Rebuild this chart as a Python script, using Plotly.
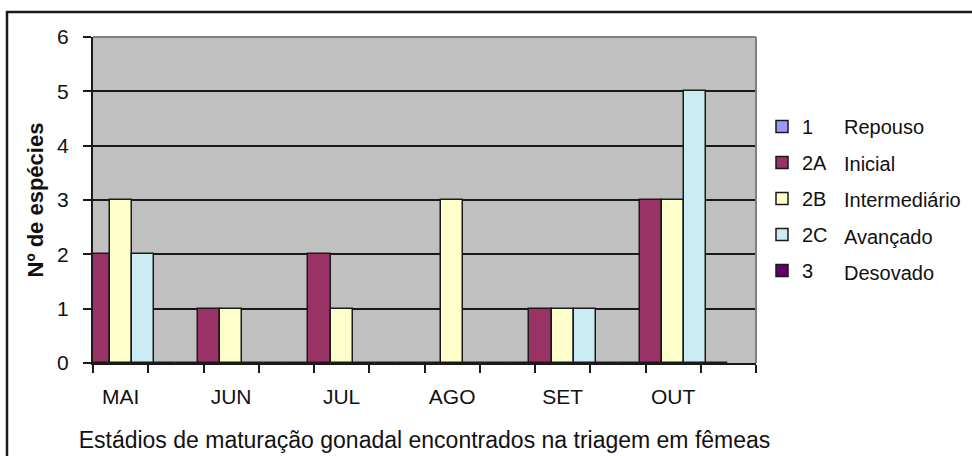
import plotly.graph_objects as go

# ---- data ----
months = ["MAI", "JUN", "JUL", "AGO", "SET", "OUT"]
codes = ["1", "2A", "2B", "2C", "3"]
stages = ["Repouso", "Inicial", "Intermediário", "Avançado", "Desovado"]
s1_repouso = [0, 0, 0, 0, 0, 0]
s2a_inicial = [2, 1, 2, 0, 1, 3]
s2b_intermediario = [3, 1, 1, 3, 1, 3]
s2c_avancado = [2, 0, 0, 0, 1, 5]
s3_desovado = [0, 0, 0, 0, 0, 0]
series = [s1_repouso, s2a_inicial, s2b_intermediario, s2c_avancado, s3_desovado]
colors = ["#9999FF", "#993366", "#FFFFCC", "#CCECF4", "#660066"]

# every month is followed by an empty (unlabelled) category slot
xpos = [2 * i for i in range(len(months))]
n_slots = 2 * len(months)

FONT = "Liberation Sans, Arial, sans-serif"

fig = go.Figure()
for code, vals, col in zip(codes, series, colors):
    fig.add_trace(go.Bar(
        x=xpos, y=vals, name=code, legendgroup=code,
        marker=dict(color=col, line=dict(color="#1a1a1a", width=1.5)),
    ))

# plot-area geometry in pixels
L, R, T, B = 93, 756, 37, 363
W, H = R - L, B - T

def px_x(p):
    return (p - L) / W

def px_y(p):
    return (B - p) / H

shapes = [
    dict(type="line", xref="paper", yref="paper", x0=0, x1=1, y0=1, y1=1,
         line=dict(color="#808080", width=2), layer="above"),
    dict(type="line", xref="paper", yref="paper", x0=1, x1=1, y0=0, y1=1,
         line=dict(color="#808080", width=2), layer="above"),
    dict(type="rect", xref="paper", yref="paper",
         x0=px_x(7), x1=px_x(1000), y0=px_y(480), y1=px_y(12),
         line=dict(color="#1a1a1a", width=2.5), fillcolor="rgba(0,0,0,0)"),
]

legend_rows_y = [127, 164, 200, 237, 273]
annotations = []
for stage, yy in zip(stages, legend_rows_y):
    annotations.append(dict(
        text=stage, xref="paper", yref="paper", x=px_x(842), y=px_y(yy),
        xanchor="left", yanchor="middle", showarrow=False,
        font=dict(family=FONT, size=20, color="#111111"),
    ))

fig.update_layout(
    width=972, height=456,
    margin=dict(l=L, r=972 - R, t=T, b=456 - B, pad=0, autoexpand=False),
    paper_bgcolor="white", plot_bgcolor="#C0C0C0",
    barmode="group", bargap=0, bargroupgap=0,
    font=dict(family=FONT, size=21, color="#111111"),
    showlegend=True,
    legend=dict(x=px_x(762), y=px_y(107), xanchor="left", yanchor="top",
                font=dict(family=FONT, size=20, color="#111111"),
                tracegroupgap=7, itemclick=False, bgcolor="rgba(0,0,0,0)"),
    shapes=shapes, annotations=annotations,
)

fig.update_xaxes(
    range=[-0.5, n_slots - 0.5],
    tickvals=xpos, ticktext=months, ticks="outside", ticklen=0,
    minor=dict(tick0=-0.5, dtick=1, ticks="outside", ticklen=8,
               tickcolor="#1a1a1a", tickwidth=2, showgrid=False),
    showgrid=False, zeroline=False,
    showline=True, linecolor="#1a1a1a", linewidth=2,
    tickfont=dict(family=FONT, size=21, color="#111111"),
    ticklabelstandoff=14,
    title=dict(text="Estádios de maturação gonadal encontrados na triagem em fêmeas",
               font=dict(family=FONT, size=23, color="#111111"), standoff=25),
)
fig.update_yaxes(
    range=[0, 6], dtick=1, tick0=0,
    ticks="outside", ticklen=8, tickcolor="#1a1a1a", tickwidth=2,
    showgrid=True, gridcolor="#1a1a1a", gridwidth=2,
    zeroline=False, showline=True, linecolor="#1a1a1a", linewidth=2,
    tickfont=dict(family=FONT, size=21, color="#111111"),
    ticklabelstandoff=10,
    title=dict(text="<b>Nº de espécies</b>",
               font=dict(family=FONT, size=22, color="#111111"), standoff=7),
)

fig.write_html("out.html", config={"displayModeBar": False},
               post_script="document.body.style.margin='0';document.body.style.overflow='hidden';")
